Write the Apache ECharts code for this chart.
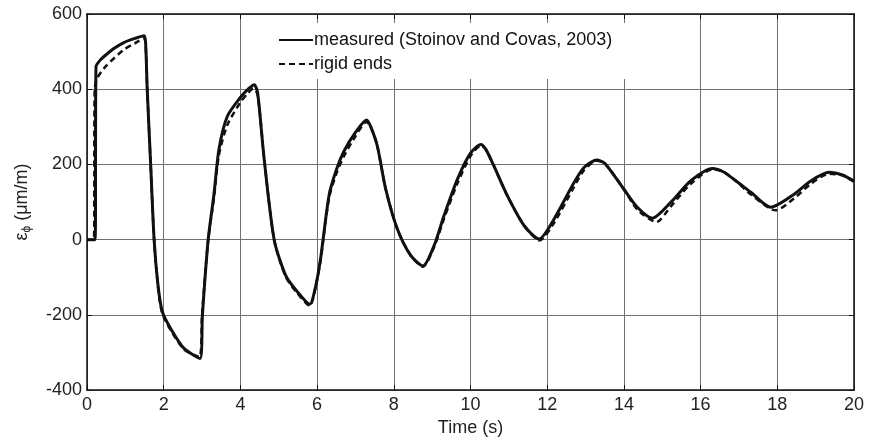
<!DOCTYPE html>
<html>
<head>
<meta charset="utf-8">
<script src="https://cdn.jsdelivr.net/npm/echarts@6/dist/echarts.min.js"></script>
<style>
  html, body { margin: 0; padding: 0; background: #fff; }
  #main { width: 870px; height: 442px; }
</style>
</head>
<body>
<div id="main"></div>
<script>
// time (s) and strain (um/m)
var tMeasured = [0, 0.21, 0.235, 0.35, 0.49, 0.7, 0.96, 1.25, 1.49, 1.53, 1.57, 1.66, 1.75, 1.85, 1.96,
    2.18, 2.53, 2.95, 3.01, 3.16, 3.31, 3.44, 3.66, 4.0, 4.2, 4.36, 4.45, 4.62, 4.88, 5.18, 5.48,
    5.81, 5.95, 6.09, 6.31, 6.5, 6.7, 7.0, 7.29, 7.4, 7.57, 7.79, 8.09, 8.44, 8.76, 9.05, 9.31,
    9.66, 10.0, 10.27, 10.4, 10.61, 10.96, 11.4, 11.79, 12.18, 12.7, 12.96, 13.29, 13.5, 14.0,
    14.35, 14.74, 15.22, 15.74, 16.31, 16.6, 16.9, 17.31, 17.83, 18.44, 18.87, 19.35, 19.7, 20];
var vMeasured = [0, 0, 460, 478, 491, 508, 524, 535, 542, 520, 400, 200, 0, -120, -190,
    -236, -289, -316, -200, 0, 120, 240, 328, 378, 400, 412, 390, 214, 0, -95, -138,
    -172, -130, -51, 117, 185, 235, 285, 318, 300, 249, 134, 29, -42, -70, -16, 64,
    161, 230, 253, 240, 196, 117, 37, 2, 55, 152, 192, 212, 203, 134,
    86, 57, 99, 156, 189, 180, 158, 126, 86, 121, 156, 179, 172, 155];

var tRigid = [0, 0.18, 0.2, 0.27, 0.5, 0.96, 1.25, 1.49, 1.53, 1.57, 1.66, 1.75, 1.85, 1.96,
    2.18, 2.53, 2.93, 3.0, 3.16, 3.31, 3.44, 3.66, 4.0, 4.2, 4.33, 4.45, 4.62, 4.88, 5.18, 5.48,
    5.81, 5.95, 6.09, 6.31, 6.5, 6.7, 7.0, 7.29, 7.4, 7.57, 7.79, 8.09, 8.44, 8.76, 9.05, 9.31,
    9.66, 10.0, 10.27, 10.4, 10.61, 10.96, 11.4, 11.8, 12.18, 12.7, 12.96, 13.29, 13.5, 14.0,
    14.35, 14.85, 15.22, 15.74, 16.31, 16.6, 16.9, 17.31, 17.96, 18.44, 18.87, 19.35, 19.7, 20];
var vRigid = [0, 0, 400, 430, 462, 505, 522, 535, 515, 400, 200, 0, -125, -195,
    -240, -292, -312, -200, 0, 110, 225, 305, 365, 390, 402, 385, 214, 0, -98, -142,
    -176, -132, -55, 110, 175, 222, 275, 313, 300, 249, 134, 29, -42, -72, -20, 56,
    150, 222, 250, 240, 196, 117, 37, -2, 45, 140, 185, 210, 203, 134,
    80, 47, 88, 148, 187, 180, 158, 120, 78, 110, 148, 175, 171, 155];

var xTicks = [0, 20, 2];      // min, max, interval
var yTicks = [-400, 600, 200];

function pairs(t, v) {
    return t.map(function (x, i) { return [x, v[i]]; });
}

var font = 'Liberation Sans, Arial, sans-serif';
var gridColor = '#707070';

var option = {
    backgroundColor: '#fff',
    animation: false,
    grid: { left: 87, right: 16, top: 14, bottom: 50 },
    legend: {
        left: 268,
        top: 23,
        orient: 'vertical',
        backgroundColor: '#fff',
        padding: [8, 30, 6, 10],
        itemWidth: 34,
        itemHeight: 14,
        itemGap: 6,
        itemStyle: { color: 'rgba(0,0,0,0)', borderWidth: 0 },
        textStyle: { fontFamily: font, fontSize: 18, color: '#111', padding: [0, 0, 0, -4] },
        data: ['measured (Stoinov and Covas, 2003)', 'rigid ends']
    },
    xAxis: [{
        type: 'value',
        min: xTicks[0], max: xTicks[1], interval: xTicks[2],
        name: 'Time (s)',
        nameLocation: 'middle',
        nameGap: 26,
        nameTextStyle: { fontFamily: font, fontSize: 18, color: '#222' },
        axisLine: { show: true, onZero: false, lineStyle: { color: '#111', width: 1.5 } },
        axisTick: { show: true, inside: true, length: 5, lineStyle: { color: '#111' } },
        axisLabel: { fontFamily: font, fontSize: 18, color: '#222', margin: 6 },
        splitLine: { show: true, lineStyle: { color: gridColor, width: 1 } }
    }, {
        type: 'value', position: 'top',
        min: xTicks[0], max: xTicks[1], interval: xTicks[2],
        axisLine: { show: true, onZero: false, lineStyle: { color: '#111', width: 1.5 } },
        axisTick: { show: true, inside: true, length: 5, lineStyle: { color: '#111' } },
        axisLabel: { show: false },
        splitLine: { show: false }
    }],
    yAxis: [{
        type: 'value',
        min: yTicks[0], max: yTicks[1], interval: yTicks[2],
        name: '{e|ε}{s|ϕ}{n| (μm/m)}',
        nameLocation: 'middle',
        nameGap: 54,
        nameTextStyle: {
            fontFamily: font, color: '#222',
            rich: {
                e: { fontFamily: font, fontSize: 18, color: '#222' },
                s: { fontFamily: font, fontSize: 12, color: '#222', verticalAlign: 'bottom', padding: [10, 0, 0, 0] },
                n: { fontFamily: font, fontSize: 18, color: '#222' }
            }
        },
        axisLine: { show: true, onZero: false, lineStyle: { color: '#111', width: 1.5 } },
        axisTick: { show: true, inside: true, length: 5, lineStyle: { color: '#111' } },
        axisLabel: { fontFamily: font, fontSize: 18, color: '#222', margin: 5 },
        splitLine: { show: true, lineStyle: { color: gridColor, width: 1 } }
    }, {
        type: 'value', position: 'right',
        min: yTicks[0], max: yTicks[1], interval: yTicks[2],
        axisLine: { show: true, onZero: false, lineStyle: { color: '#111', width: 1.5 } },
        axisTick: { show: true, inside: true, length: 5, lineStyle: { color: '#111' } },
        axisLabel: { show: false },
        splitLine: { show: false }
    }],
    series: [{
        name: 'measured (Stoinov and Covas, 2003)',
        type: 'line',
        data: pairs(tMeasured, vMeasured),
        symbol: 'none',
        smooth: 0.25,
        lineStyle: { color: '#111', width: 3 },
        itemStyle: { color: '#111' },
        z: 3
    }, {
        name: 'rigid ends',
        type: 'line',
        data: pairs(tRigid, vRigid),
        symbol: 'none',
        smooth: 0.25,
        lineStyle: { color: '#111', width: 2.5, type: [6, 4] },
        itemStyle: { color: '#111' },
        z: 4
    }]
};

var myChart = echarts.init(document.getElementById('main'));
myChart.setOption(option);
</script>
</body>
</html>
